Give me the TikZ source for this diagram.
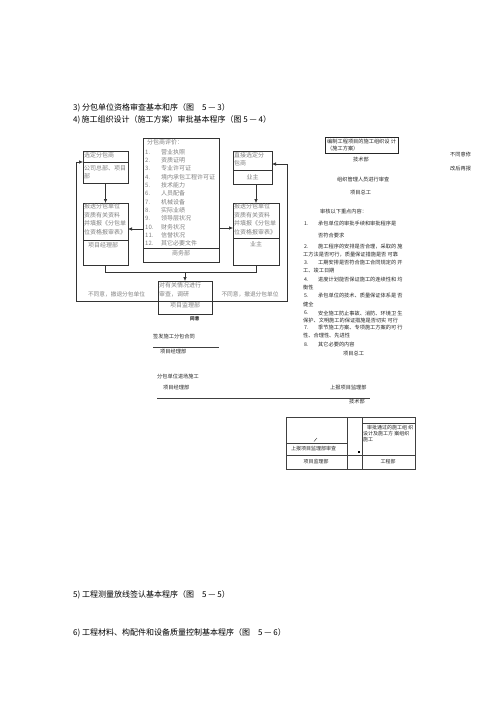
\documentclass[tikz,border=0pt]{standalone}
\usepackage{fontspec}
\setmainfont{Noto Sans CJK SC}
\usetikzlibrary{arrows.meta}
\begin{document}
\begin{tikzpicture}[x=1pt,y=-1pt,
  fb/.style={draw=black!80,line width=0.6pt,inner sep=0pt,outer sep=0pt},
  ft/.style={text=black!50,inner sep=0pt,font=\fontsize{6}{7}\selectfont},
  rt/.style={text=black!85,inner sep=0pt,anchor=west,font=\fontsize{5.2}{6}\selectfont},
  hd/.style={text=black,inner sep=0pt,anchor=west,font=\fontsize{8}{9}\selectfont},
  fl/.style={draw=black!80,line width=0.6pt},
  arr/.style={fl,-{Latex[length=4pt,width=3.5pt]}},
  tb/.style={draw=black!75,line width=0.5pt}
]
\useasboundingbox[fill=white] (0,0) rectangle (500,707);

% headings
\node[hd] (h3) at (73,108) {3)\ 分包单位资格审查基本和序（图\quad 5 — 3）};
\node[hd] (h4) at (73,120) {4)\,施工组织设计（施工方案）审批基本程序（图\ 5 — 4）};
\node[hd] (h5) at (73,595) {5)\ 工程测量放线签认基本程序（图\quad 5 — 5）};
\node[hd] (h6) at (73,633) {6)\ 工程材料、构配件和设备质量控制基本程序（图\quad 5 — 6）};

% ---------- flowchart 5-3 ----------
\node[fb,minimum width=45pt,minimum height=32pt] (tl) at (105.5,167) {};
\draw[fl] (83,162) -- (128,162);
\node[ft,anchor=west] (tl1) at (84,155) {选定分包商};
\node[ft,anchor=west] (tl2) at (84,168) {公司总部、项目};
\node[ft,anchor=west] (tl3) at (84,176) {部};

\node[fb,minimum width=39pt,minimum height=33pt] (rtb) at (252.5,167.5) {};
\draw[fl] (233,170) -- (272,170);
\node[ft,anchor=west] (rt1) at (234,155) {直接选定分};
\node[ft,anchor=west] (rt2) at (234,163.5) {包商};
\node[ft] (rt3) at (252.5,177.5) {业主};

\node[fb,minimum width=76pt,minimum height=124pt] (mid) at (181,200) {};
\draw[fl] (143,248) -- (219,248);
\node[ft,anchor=west] (mh) at (147,142.5) {分包商评价：};
\foreach \i/\t in {1/营业执照,2/资质证明,3/专业许可证,4/境内承包工程许可证,5/技术能力,6/人员配备,7/机械设备,8/实际业绩,9/领导层状况,10/财务状况,11/信誉状况,12/其它必要文件}{
  \node[ft,anchor=west] (mn\i) at (145,{152+(\i-1)*8.33}) {\i.};
  \node[ft,anchor=west] (mt\i) at (161,{152+(\i-1)*8.33}) {\t};
}
\node[ft] (mb) at (181,253.5) {商务部};

\node[fb,minimum width=45pt,minimum height=62pt] (lm) at (105.5,234) {};
\draw[fl] (83,240) -- (128,240);
\node[ft,anchor=west] (lm1) at (84,206.5) {报送分包单位};
\node[ft,anchor=west] (lm2) at (84,215) {资质有关资料};
\node[ft,anchor=west] (lm3) at (84,223.5) {并填报《分包单};
\node[ft,anchor=west] (lm4) at (84,232) {位资格报审表》};
\node[ft] (lm5) at (103,245) {项目经理部};

\node[fb,minimum width=46pt,minimum height=62pt] (rm) at (256,234) {};
\draw[fl] (233,238) -- (279,238);
\node[ft,anchor=west] (rm1) at (234,206.5) {报送分包单位};
\node[ft,anchor=west] (rm2) at (234,215) {资质有关资料};
\node[ft,anchor=west] (rm3) at (234,223.5) {并填报《分包单};
\node[ft,anchor=west] (rm4) at (234,232) {位资格报审表》};
\node[ft] (rm5) at (256,244.5) {业主};

\node[fb,minimum width=54pt,minimum height=33pt] (bb) at (185,297.5) {};
\draw[fl] (158,301) -- (212,301);
\node[ft,anchor=west] (bb1) at (159,285.5) {对有关情况进行};
\node[ft,anchor=west] (bb2) at (159,294) {审查，调研};
\node[ft] (bb3) at (185,305) {项目监理部};

% connectors
\draw[arr] (tl.south) -- (lm.north);
\draw[arr] (rm.north |- rtb.south) -- (rm.north);
\coordinate (a1) at (143,229);
\draw[arr] (a1) -- (a1 -| lm.east);
\coordinate (a2) at (219,228);
\draw[arr] (a2) -- (a2 -| rm.west);
\draw[fl] (lm.south) -- ++(0,7) -| (rm.south);
\coordinate (j) at (185,272);
\draw[arr] (j) -- (bb.north);
\coordinate (l1) at (158,301);
\coordinate (tlin) at (83,162);
\draw[arr] (l1) -- (76,301) -- (76,162) -- (tlin);
\coordinate (r1) at (212,301);
\coordinate (rtin) at (272,164);
\draw[arr] (r1) -- (287,301) -- (287,164) -- (rtin);
\node[ft,font=\fontsize{5.7}{7}\selectfont] (no1) at (116.5,294.5) {不同意，撤退分包单位};
\node[ft,font=\fontsize{5.7}{7}\selectfont] (no2) at (250,294.5) {不同意，撤退分包单位};

\node[rt,font=\fontsize{4.6}{5}\selectfont\bfseries] (ok) at (190,319) {同意};
\node[rt] (sign) at (153,337) {签发施工分包合同};
\draw[tb] (153,347) -- (219,347);
\node[rt] (pm1) at (160,351.5) {项目经理部};

% ---------- right text block 5-4 ----------
\node[draw=black!85,line width=0.6pt,minimum width=73pt,minimum height=16pt,inner sep=0pt] (bz) at (361.5,145) {};
\node[rt] (bz1) at (327,141.5) {编制工程项目的施工组织设\ 计};
\node[rt] (bz2) at (327,149) {（施工方案）};
\node[rt] (js1) at (353,160) {技术部};
\node[rt] (bx1) at (450,155) {不同意修};
\node[rt] (bx2) at (450,169) {改后再报};
\node[rt] (zz) at (337,180) {组织管理人员进行审查};
\node[rt] (zg1) at (350,193) {项目总工};
\node[rt] (sh) at (320,212) {审核以下重点内容：};
\foreach \n/\y in {1/224,2/247,3/263,4/280,5/296,6/313,7/328,8/345}{
  \node[rt] (num\n) at (304,\y) {\n.};
}
\node[rt] (i1a) at (318,224) {承包单位的审批手续和审批程序是};
\node[rt] (i1b) at (318,236) {否符合要求};
\node[rt] (i2a) at (318,247) {施工程序的安排是否合理，采取的\ 施};
\node[rt] (i2b) at (303,255) {工方法是否可行，质量保证措施是否\ 可靠};
\node[rt] (i3a) at (318,263) {工期安排是否符合施工合同规定的\ 开};
\node[rt] (i3b) at (303,271) {工、竣工日期};
\node[rt] (i4a) at (318,280) {进度计划能否保证施工的连续性和\ 均};
\node[rt] (i4b) at (303,288) {衡性};
\node[rt] (i5a) at (318,296) {承包单位的技术、质量保证体系是\ 否};
\node[rt] (i5b) at (303,304) {健全};
\node[rt] (i6a) at (318,313) {安全施工防止事故、消防、环境卫\ 生};
\node[rt] (i6b) at (303,321) {保护、文明施工的保证措施是否切实\ 可行};
\node[rt] (i7a) at (318,328) {季节施工方案、专项施工方案的可\ 行};
\node[rt] (i7b) at (303,336) {性、合理性、先进性};
\node[rt] (i8a) at (318,345) {其它必要的内容};
\node[rt] (zg2) at (343,354) {项目总工};

% ---------- lower part ----------
\node[rt] (fb1) at (157,377) {分包单位进场施工};
\node[rt] (pm2) at (163,388) {项目经理部};
\node[rt] (sb) at (330,388) {上报项目监理部};
\draw[tb] (157,398) -- (370,398);
\node[rt] (js2) at (349,402) {技术部};

% table
\draw[tb] (286,417) rectangle (415,469);
\draw[tb] (347,417) -- (347,469);
\draw[tb] (362,417) -- (362,469);
\draw[tb] (286,455) -- (415,455);
\draw[tb] (286,443) -- (347,443);
\draw[tb] (362,423) -- (415,423);
\draw[black!80,line width=0.4pt] (314,441.5) -- (317,438);
\fill[black] (357.8,450.8) rectangle (360.4,453.4);
\node[rt,font=\fontsize{5}{6}\selectfont] (t1) at (291,448.5) {上报项目监理部审查};
\node[rt,font=\fontsize{5}{6}\selectfont] (t2) at (367,428) {审批通过的施工组\ 织};
\node[rt,font=\fontsize{5}{6}\selectfont] (t3) at (363,434) {设计及施工方\ 案组织};
\node[rt,font=\fontsize{5}{6}\selectfont] (t4) at (363,440) {施工};
\node[rt,anchor=center,font=\fontsize{5}{6}\selectfont] (t5) at (316,462) {项目监理部};
\node[rt,anchor=center,font=\fontsize{5}{6}\selectfont] (t6) at (388,462) {工程部};
\end{tikzpicture}
\end{document}
